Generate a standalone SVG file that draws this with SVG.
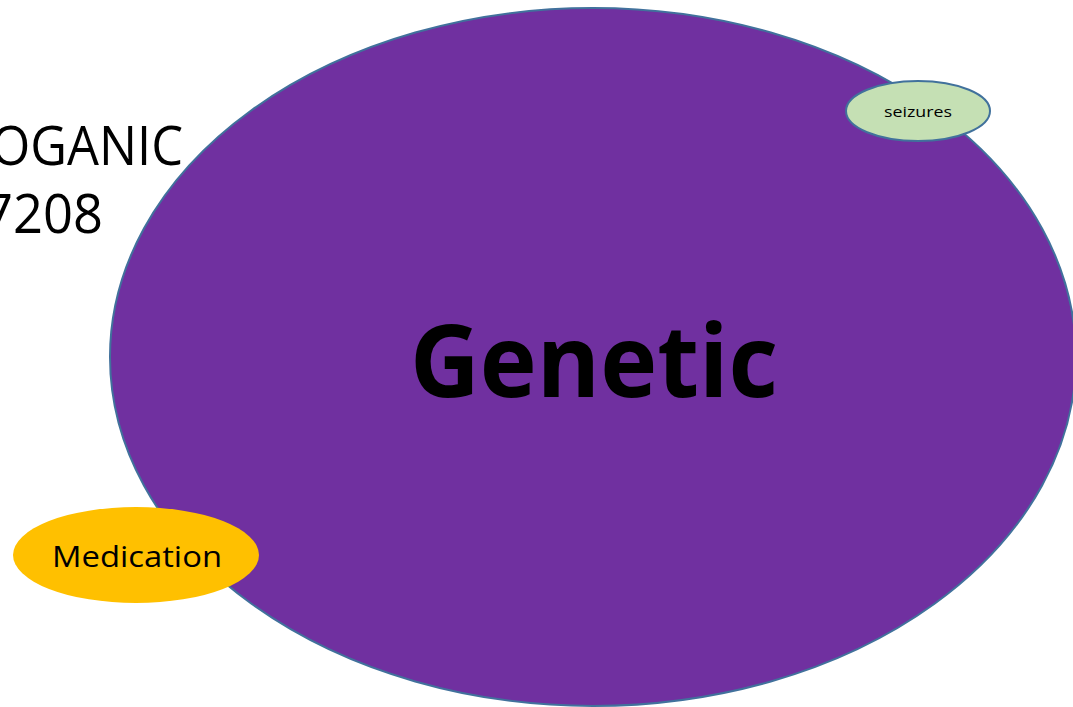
<svg xmlns="http://www.w3.org/2000/svg" width="1073" height="707" viewBox="0 0 1073 707">
<style>
.t{font-family:"Open Sans","Liberation Sans",sans-serif;fill:#000}
</style>
<rect width="1073" height="707" fill="#fff"/>
<g id="label-left">
<text class="t" x="183" y="165" font-size="54" text-anchor="end" textLength="192" lengthAdjust="spacingAndGlyphs">OGANIC</text>
<text class="t" x="103" y="233" font-size="54" text-anchor="end" textLength="120" lengthAdjust="spacingAndGlyphs">7208</text>
</g>
<g id="genetic">
<ellipse cx="593" cy="357" rx="483" ry="349" fill="#7030a0" stroke="#41719c" stroke-width="2"/>
<text class="t" x="594" y="397" font-size="100" font-weight="bold" text-anchor="middle" textLength="368" lengthAdjust="spacingAndGlyphs">Genetic</text>
</g>
<g id="seizures">
<ellipse cx="918" cy="111" rx="72" ry="30" fill="#c5e0b4" stroke="#41719c" stroke-width="2"/>
<text class="t" x="918" y="117" font-size="15" text-anchor="middle" textLength="68" lengthAdjust="spacingAndGlyphs">seizures</text>
</g>
<g id="medication">
<ellipse cx="136" cy="555" rx="123" ry="48" fill="#ffc000"/>
<text class="t" x="137" y="567" font-size="30" text-anchor="middle" textLength="170" lengthAdjust="spacingAndGlyphs">Medication</text>
</g>
<g id="connectors"></g>
</svg>
